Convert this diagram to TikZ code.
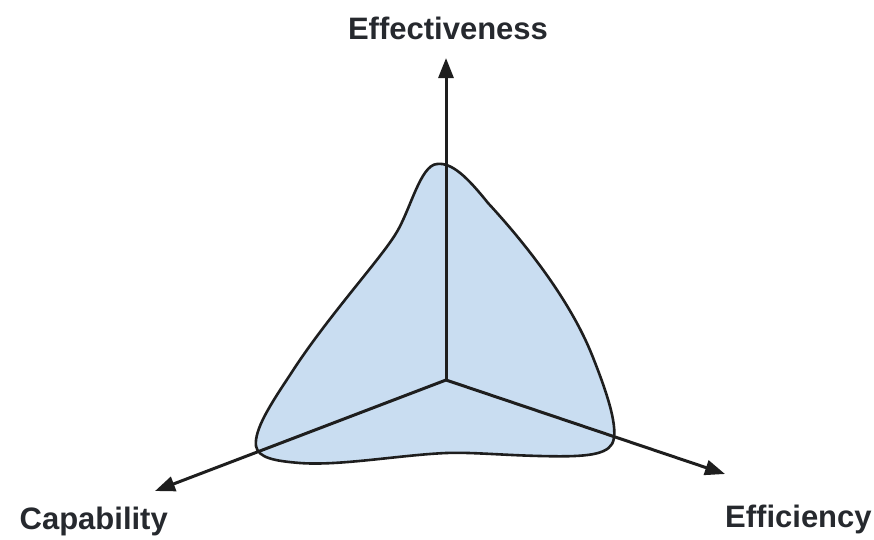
\documentclass[tikz,border=0pt]{standalone}
\usepackage{fontspec}
\setmainfont{Liberation Sans}
\usetikzlibrary{arrows.meta}
\definecolor{blobfill}{HTML}{C9DDF1}
\definecolor{inkline}{HTML}{1E1E1E}
\definecolor{inktext}{HTML}{26292E}
\tikzset{
  axisline/.style={draw=inkline, line width=3pt, -{Triangle[length=20pt,width=15pt]}},
  blobline/.style={draw=inkline, line width=2.6pt, fill=blobfill, line join=round},
  axislabel/.style={font=\fontsize{31}{36}\selectfont\bfseries, text=inktext, inner sep=0pt}
}
\begin{document}
\begin{tikzpicture}[x=1pt,y=-1pt]
\useasboundingbox (0,0) rectangle (874,539);
\coordinate (O) at (446,380);
\coordinate (Tup) at (446,58);
\coordinate (Tright) at (725,474);
\coordinate (Tleft) at (155,491);
\draw[blobline] (437,164)
  .. controls (452,162) and (468,178) .. (488,203)
  .. controls (525,243) and (570,300) .. (592,355)
  .. controls (606,390) and (620,430) .. (612,444)
  .. controls (605,456) and (580,457) .. (540,456)
  .. controls (500,455) and (470,452) .. (446,453)
  .. controls (400,455) and (340,466) .. (300,463)
  .. controls (275,461) and (258,458) .. (256,446)
  .. controls (254,430) and (270,405) .. (290,375)
  .. controls (325,320) and (378,262) .. (395,235)
  .. controls (410,212) and (420,165) .. (437,164) -- cycle;
\draw[axisline] (O) -- (Tup);
\draw[axisline] (O) -- (Tright);
\draw[axisline] (O) -- (Tleft);
\node[axislabel, anchor=base] (eff) at (448,39) {Effectiveness};
\node[axislabel, anchor=base east] (cap) at (168,529) {Capability};
\node[axislabel, anchor=base west] (effi) at (725,527) {Efficiency};
\end{tikzpicture}
\end{document}
